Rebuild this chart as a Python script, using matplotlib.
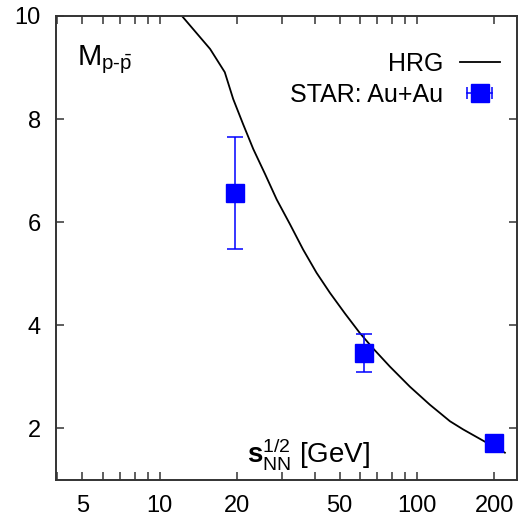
import matplotlib
matplotlib.use("Agg")
import matplotlib.pyplot as plt
from matplotlib.lines import Line2D
from matplotlib.legend_handler import HandlerLine2D, HandlerTuple
from matplotlib.ticker import LogLocator, FixedLocator, NullFormatter, FixedFormatter

plt.rcParams['font.family'] = ['Liberation Sans', 'DejaVu Sans']
plt.rcParams['mathtext.fontset'] = 'custom'
plt.rcParams['mathtext.rm'] = 'Liberation Sans'
plt.rcParams['mathtext.it'] = 'Liberation Sans:italic'
plt.rcParams['mathtext.bf'] = 'Liberation Sans:bold'

# HRG curve
hrg_x = [12.2, 15.7, 17.9, 19.3, 21.1, 23.1, 25.7, 28.5, 32.1, 36.1, 40.7, 45.9, 52.5, 60.0,
         67.6, 78.5, 93.9, 112.3, 122.9, 134.4, 151.4, 186.6, 219.8]
hrg_y = [10.0, 9.36, 8.91, 8.39, 7.90, 7.42, 6.93, 6.44, 5.96, 5.47, 5.02, 4.63, 4.23, 3.85,
         3.55, 3.20, 2.81, 2.46, 2.30, 2.14, 1.98, 1.725, 1.53]

# STAR Au+Au data
star_x = [19.6, 62.4, 200.0]
star_y = [6.57, 3.46, 1.72]
star_err = [1.08, 0.37, 0.05]

xticks = [5, 10, 20, 50, 100, 200]
xticklabels = ['5', '10', '20', '50', '100', '200']
yticks = [2, 4, 6, 8, 10]

blue = '#0000ff'

fig = plt.figure(figsize=(5.19, 5.18), dpi=100)
ax = fig.add_axes([56/519, 1-480/518, 461/519, 464/518])

ax.plot(hrg_x, hrg_y, color='black', lw=1.3, zorder=2)
ax.errorbar(star_x, star_y, yerr=star_err, fmt='s', color=blue, ms=12.5,
            elinewidth=1.1, capsize=5.5, capthick=1.1, zorder=3)

ax.set_xscale('log')
ax.set_xlim(3.95, 245)
ax.set_ylim(1, 10)

ax.xaxis.set_major_locator(FixedLocator(xticks))
ax.xaxis.set_major_formatter(FixedFormatter(xticklabels))
ax.xaxis.set_minor_locator(LogLocator(base=10, subs=[2, 3, 4, 5, 6, 7, 8, 9]))
ax.xaxis.set_minor_formatter(NullFormatter())
ax.set_yticks(yticks)

ax.tick_params(which='both', direction='in', top=True, right=True, length=6,
               width=1.1, color='#333333')
ax.tick_params(axis='both', which='major', labelsize=17, pad=11)
for s in ax.spines.values():
    s.set_color('#333333')
    s.set_linewidth(1.4)

ax.text(0.045, 0.894, r'$\mathrm{M}_{\mathrm{p\text{-}\bar{p}}}$', transform=ax.transAxes,
        fontsize=21, ha='left', va='baseline')
ax.text(0.415, 0.037, r'$\mathbf{s}_{\mathrm{NN}}^{1/2}$ [GeV]', transform=ax.transAxes,
        fontsize=20, ha='left', va='baseline')

# legend handles
h_hrg = Line2D([], [], color='black', lw=1.3)
h_cap = Line2D([], [], color=blue, lw=1.1, marker='|', ms=8, mew=1.1)
h_sq = Line2D([], [], color=blue, lw=0, marker='s', ms=12.5)
ax.legend([h_hrg, (h_cap, h_sq)], ['HRG', 'STAR: Au+Au'],
          handler_map={h_cap: HandlerLine2D(numpoints=2), tuple: HandlerTuple(ndivide=1)},
          loc='upper right', bbox_to_anchor=(0.984, 0.945),
          frameon=False, markerfirst=False, fontsize=18, handlelength=1.6,
          handletextpad=0.65, labelspacing=0.3, borderaxespad=0)

fig.savefig('out.png', dpi=100)
